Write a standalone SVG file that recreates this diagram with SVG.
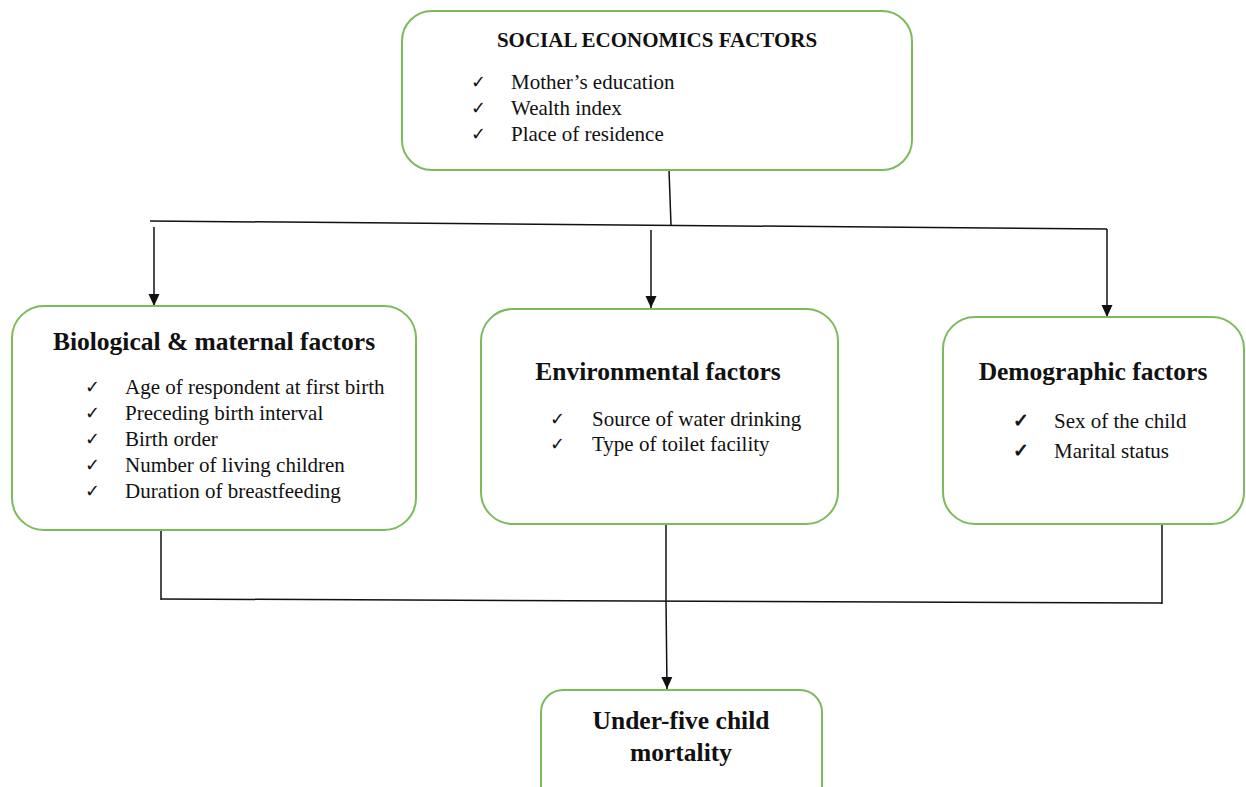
<svg xmlns="http://www.w3.org/2000/svg" width="1246" height="787" viewBox="0 0 1246 787">
<style>
.box{fill:#fff;stroke:#7DBA5B;stroke-width:2}
.t{font-family:"Liberation Serif",serif;font-weight:bold;font-size:25.5px;fill:#111;text-anchor:middle}
.st{font-family:"Liberation Serif",serif;font-weight:bold;font-size:21px;fill:#111;text-anchor:middle}
.li{font-family:"Liberation Serif",serif;font-size:21px;fill:#111}
.ck{font-family:"DejaVu Sans",sans-serif;font-size:18px;fill:#111}
.ckb{font-family:"DejaVu Sans",sans-serif;font-size:19px;fill:#111;stroke:#111;stroke-width:0.8}
.ln{stroke:#111;stroke-width:1.5;fill:none}
</style>
<defs>
<marker id="ah" markerWidth="12" markerHeight="14" refX="12" refY="5.5" orient="auto" markerUnits="userSpaceOnUse" viewBox="0 0 12 11">
<path d="M0,0 L12,5.5 L0,11 Z" fill="#111"/>
</marker>
</defs>
<g id="connectors">
<path class="ln" d="M669,170 L671,225"/>
<path class="ln" d="M150,221 L1107,229"/>
<path class="ln" d="M154,227 L154,306" marker-end="url(#ah)"/>
<path class="ln" d="M651,230 L651,308" marker-end="url(#ah)"/>
<path class="ln" d="M1107,229 L1107,317" marker-end="url(#ah)"/>
<path class="ln" d="M161,530 L161,600"/>
<path class="ln" d="M666,524 L666,600"/>
<path class="ln" d="M1162,524 L1162,604"/>
<path class="ln" d="M161,599 L1162,603"/>
<path class="ln" d="M666,600 L667,689" marker-end="url(#ah)"/>
</g>
<g id="social">
<rect class="box" x="402" y="11" width="510" height="159" rx="30"/>
<text class="st" x="657" y="47">SOCIAL ECONOMICS FACTORS</text>
<text class="ck" x="471" y="88">✓</text><text class="li" x="511" y="89">Mother’s education</text>
<text class="ck" x="471" y="114">✓</text><text class="li" x="511" y="115">Wealth index</text>
<text class="ck" x="471" y="140">✓</text><text class="li" x="511" y="141">Place of residence</text>
</g>
<g id="biological">
<rect class="box" x="12" y="306" width="404" height="224" rx="32"/>
<text class="t" x="214" y="350">Biological &amp; maternal factors</text>
<text class="ck" x="85" y="393">✓</text><text class="li" x="125" y="394">Age of respondent at first birth</text>
<text class="ck" x="85" y="419">✓</text><text class="li" x="125" y="420">Preceding birth interval</text>
<text class="ck" x="85" y="445">✓</text><text class="li" x="125" y="446">Birth order</text>
<text class="ck" x="85" y="471">✓</text><text class="li" x="125" y="472">Number of living children</text>
<text class="ck" x="85" y="497">✓</text><text class="li" x="125" y="498">Duration of breastfeeding</text>
</g>
<g id="environmental">
<rect class="box" x="481" y="309" width="357" height="215" rx="32"/>
<text class="t" x="658" y="380">Environmental factors</text>
<text class="ck" x="550" y="425">✓</text><text class="li" x="592" y="426">Source of water drinking</text>
<text class="ck" x="550" y="450">✓</text><text class="li" x="592" y="451">Type of toilet facility</text>
</g>
<g id="demographic">
<rect class="box" x="943" y="317" width="301" height="207" rx="32"/>
<text class="t" x="1093" y="380">Demographic factors</text>
<text class="ckb" x="1013" y="427">✓</text><text class="li" x="1054" y="428">Sex of the child</text>
<text class="ckb" x="1013" y="457">✓</text><text class="li" x="1054" y="458">Marital status</text>
</g>
<g id="outcome">
<rect class="box" x="541" y="690" width="281" height="120" rx="22"/>
<text class="t" x="681" y="729">Under-five child</text>
<text class="t" x="681" y="761">mortality</text>
</g>
</svg>
